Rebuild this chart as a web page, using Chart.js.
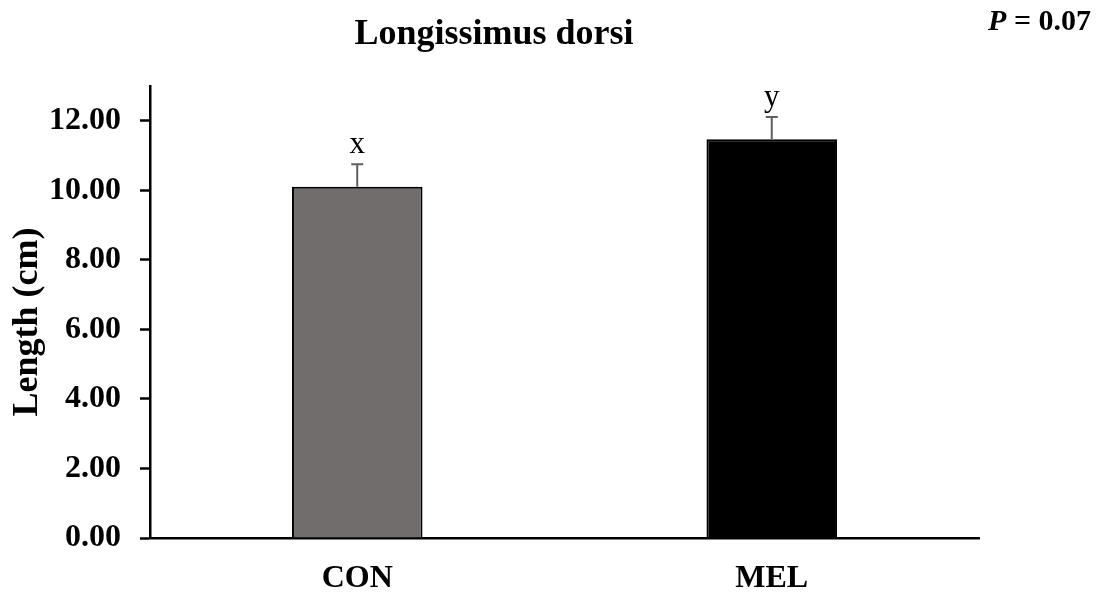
<!DOCTYPE html>
<html>
<head>
<meta charset="utf-8">
<script src="https://cdn.jsdelivr.net/npm/chart.js@4.4.1/dist/chart.umd.min.js"></script>
<style>
  html, body { margin: 0; padding: 0; background: #ffffff; }
  #wrap { width: 1099px; height: 592px; position: relative; }
</style>
</head>
<body>
<div id="wrap"><canvas id="chart" width="1099" height="592"></canvas></div>
<script>
// Longissimus dorsi length by treatment group
const groups = ['CON', 'MEL'];
const lengthMeans = [10.10, 11.47];
const lengthSEM = [0.65, 0.64];
const sigLetters = ['x', 'y'];
const barColors = ['#716d6c', '#000000'];
const yTicks = [0, 2, 4, 6, 8, 10, 12];
const chartTitle = 'Longissimus dorsi';
const pLabel = 'P';
const pValueText = ' = 0.07';
const yAxisTitle = 'Length (cm)';

const SERIF = '"Liberation Serif", "Times New Roman", serif';

const annotations = {
  id: 'annotations',
  afterDatasetsDraw(chart) {
    const { ctx, scales: { y } } = chart;
    const meta = chart.getDatasetMeta(0);
    ctx.save();
    meta.data.forEach((bar, i) => {
      const cx = bar.x;
      const top = y.getPixelForValue(lengthMeans[i] + lengthSEM[i]);
      const base = y.getPixelForValue(lengthMeans[i]);
      ctx.strokeStyle = '#5f5f5f';
      ctx.lineWidth = 2;
      ctx.beginPath();
      ctx.moveTo(cx, base);
      ctx.lineTo(cx, top);
      ctx.moveTo(cx - 6, top);
      ctx.lineTo(cx + 6, top);
      ctx.stroke();
      ctx.fillStyle = '#000000';
      ctx.font = '31px ' + SERIF;
      ctx.textAlign = 'center';
      ctx.textBaseline = 'alphabetic';
      ctx.fillText(sigLetters[i], cx, top - 11);
    });
    ctx.restore();
  },
  afterDraw(chart) {
    const { ctx, chartArea } = chart;
    ctx.save();
    ctx.fillStyle = '#000000';
    ctx.textBaseline = 'middle';
    ctx.textAlign = 'center';
    ctx.font = 'bold 36px ' + SERIF;
    ctx.fillText(chartTitle, 494, 35);
    // P value: italic P followed by upright text
    ctx.textAlign = 'left';
    ctx.font = 'bold 30px ' + SERIF;
    const restW = ctx.measureText(pValueText).width;
    ctx.font = 'italic bold 30px ' + SERIF;
    const pW = ctx.measureText(pLabel).width;
    const startX = 1091 - restW - pW;
    ctx.fillText(pLabel, startX, 22);
    ctx.font = 'bold 30px ' + SERIF;
    ctx.fillText(pValueText, startX + pW, 22);
    // vertical axis title
    ctx.translate(28, 322);
    ctx.rotate(-Math.PI / 2);
    ctx.textAlign = 'center';
    ctx.font = 'bold 36px ' + SERIF;
    ctx.fillText(yAxisTitle, 0, 0);
    ctx.restore();
  }
};

new Chart(document.getElementById('chart'), {
  type: 'bar',
  data: {
    labels: groups,
    datasets: [{
      data: lengthMeans,
      backgroundColor: barColors,
      borderColor: '#000000',
      borderWidth: 2,
      borderSkipped: 'bottom',
      barPercentage: 1,
      categoryPercentage: 0.315
    }]
  },
  options: {
    responsive: false,
    animation: false,
    layout: { padding: { left: 0, right: 120, top: 86, bottom: 0 } },
    plugins: {
      legend: { display: false },
      tooltip: { enabled: false },
      title: { display: false }
    },
    scales: {
      x: {
        grid: { display: false, drawTicks: false },
        border: { display: true, color: '#000000', width: 2.5 },
        ticks: {
          color: '#000000',
          font: { family: SERIF, size: 32, weight: 'bold' },
          padding: 22
        },
        afterFit(scale) { scale.height = 54; }
      },
      y: {
        min: 0,
        max: 13,
        afterBuildTicks(scale) { scale.ticks = yTicks.map(v => ({ value: v })); },
        grid: { drawOnChartArea: false, drawTicks: true, tickLength: 10, tickWidth: 2.5, tickColor: '#000000' },
        border: { display: true, color: '#000000', width: 2.5 },
        ticks: {
          color: '#000000',
          font: { family: SERIF, size: 32, weight: 'bold' },
          padding: 19,
          callback: v => Number(v).toFixed(2)
        },
        afterFit(scale) { scale.width = 150; }
      }
    }
  },
  plugins: [annotations]
});
</script>
</body>
</html>
